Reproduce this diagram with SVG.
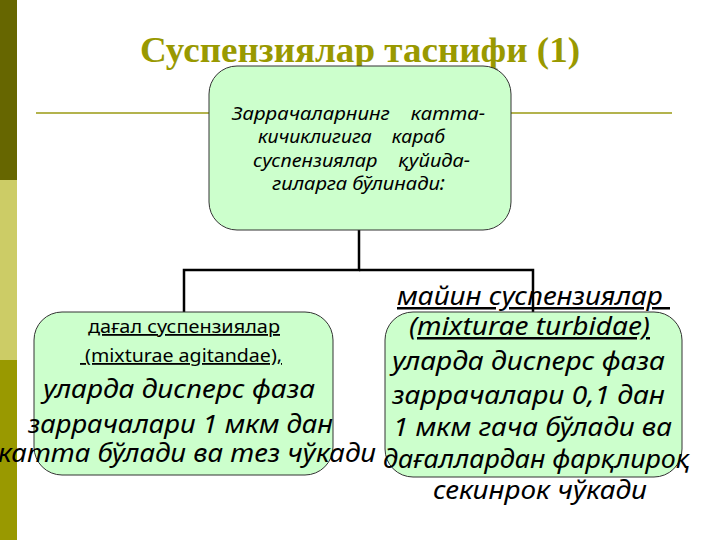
<svg xmlns="http://www.w3.org/2000/svg" width="720" height="540" viewBox="0 0 720 540">
<style>
.box{fill:#ccffcc;stroke:#333333;stroke-width:1}
.conn{fill:none;stroke:#000000;stroke-width:2.5}
.t{font-family:"Noto Sans","Open Sans","DejaVu Sans",sans-serif;fill:#000000;text-anchor:middle;white-space:pre}
.i{font-style:italic}
.u{text-decoration:underline}
.title{font-family:"Liberation Serif","DejaVu Serif",serif;font-weight:bold;font-size:35px;fill:#999900;text-anchor:middle}
</style>
<rect width="720" height="540" fill="#ffffff"/>
<g id="sidebar">
<rect x="0" y="0" width="17" height="180" fill="#666600"/>
<rect x="0" y="180" width="17" height="180" fill="#cccc66"/>
<rect x="0" y="360" width="17" height="180" fill="#999900"/>
</g>
<g id="title">
<text class="title" x="360" y="62" textLength="440" lengthAdjust="spacingAndGlyphs">Суспензиялар таснифи (1)</text>
<line x1="36" y1="113" x2="672" y2="113" stroke="#b3b34d" stroke-width="2"/>
</g>
<g id="connectors">
<polyline class="conn" points="359,230 359,270 184,270 184,312"/>
<polyline class="conn" points="359,270 533,270 533,312"/>
</g>
<g id="top">
<rect class="box" x="209" y="66" width="302" height="164" rx="28"/>
<text class="t i" font-size="19" x="358.5" y="120" textLength="253" lengthAdjust="spacingAndGlyphs">Заррачаларнинг    катта-</text>
<text class="t i" font-size="19" x="351.5" y="143" textLength="187" lengthAdjust="spacingAndGlyphs">кичиклигига    караб</text>
<text class="t i" font-size="19" x="361.5" y="167" textLength="217" lengthAdjust="spacingAndGlyphs">суспензиялар    қуйида-</text>
<text class="t i" font-size="19" x="358.5" y="190" textLength="173" lengthAdjust="spacingAndGlyphs">гиларга бўлинади:</text>
</g>
<g id="left">
<rect class="box" x="34" y="312" width="299" height="163" rx="28"/>
<text class="t u" font-size="18" x="184" y="333" textLength="192" lengthAdjust="spacingAndGlyphs">дағал суспензиялар</text>
<text class="t u" font-size="18" x="181" y="362" textLength="202" lengthAdjust="spacingAndGlyphs"> (mixturae agitandae),</text>
<text class="t i" font-size="25" x="179" y="398" textLength="272" lengthAdjust="spacingAndGlyphs">уларда дисперс фаза</text>
<text class="t i" font-size="25" x="180.5" y="433" textLength="305" lengthAdjust="spacingAndGlyphs">заррачалари 1 мкм дан</text>
<text class="t i" font-size="25" x="187" y="462" textLength="378" lengthAdjust="spacingAndGlyphs">катта бўлади ва тез чўкади</text>
</g>
<g id="right">
<rect class="box" x="385" y="312" width="297" height="165" rx="28"/>
<text class="t i u" font-size="25" x="533.5" y="305" textLength="273" lengthAdjust="spacingAndGlyphs">майин суспензиялар </text>
<text class="t i u" font-size="25" x="529.5" y="335" textLength="241" lengthAdjust="spacingAndGlyphs">(mixturae turbidae)</text>
<text class="t i" font-size="25" x="528.5" y="370" textLength="273" lengthAdjust="spacingAndGlyphs">уларда дисперс фаза</text>
<text class="t i" font-size="25" x="528.5" y="404" textLength="273" lengthAdjust="spacingAndGlyphs">заррачалари 0,1 дан</text>
<text class="t i" font-size="25" x="532.5" y="436" textLength="279" lengthAdjust="spacingAndGlyphs">1 мкм гача бўлади ва</text>
<text class="t i" font-size="25" x="536.5" y="468" textLength="307" lengthAdjust="spacingAndGlyphs">дағаллардан фарқлироқ</text>
<text class="t i" font-size="25" x="540" y="499" textLength="214" lengthAdjust="spacingAndGlyphs">секинрок чўкади</text>
</g>
</svg>
